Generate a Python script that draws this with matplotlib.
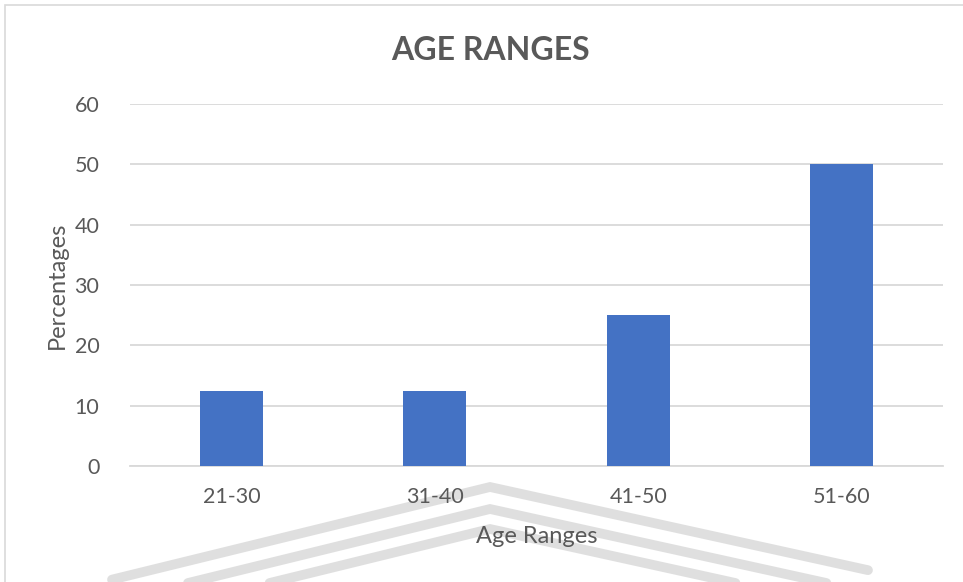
import matplotlib.pyplot as plt
from matplotlib.lines import Line2D
from matplotlib.patches import Rectangle

# data
age_ranges = ['21-30', '31-40', '41-50', '51-60']
percentages = [12.5, 12.5, 25, 50]
y_ticks = [0, 10, 20, 30, 40, 50, 60]

TEXT = '#595959'
BAR = '#4472c4'
GRID = '#d9d9d9'

plt.rcParams['font.family'] = ['Lato', 'DejaVu Sans']

fig = plt.figure(figsize=(9.63, 5.82), dpi=100)

# faint watermark chevrons behind the chart (pixel positions / figure size)
W, H = 963, 582
for dy in (0, 22, 42):
    top = 487 + dy
    xs = [112, 490, 868]
    ys = [top + (490 - 112) * 0.245, top, top + (868 - 490) * 0.22]
    fig.add_artist(Line2D([x / W for x in xs], [1 - y / H for y in ys],
                          color='#dadada', lw=7, alpha=0.85, zorder=0,
                          solid_joinstyle='miter', solid_capstyle='round'))

# chart area frame (cut off on the right and bottom)
fig.add_artist(Rectangle((5 / W, -0.1), 1.2, 1 - 5 / H + 0.1, fill=False,
                         ec='#d9d9d9', lw=1.2, transform=fig.transFigure, zorder=0))

ax = fig.add_axes([130 / W, 1 - 466 / H, (943 - 130) / W, (466 - 104) / H])
ax.set_facecolor('none')

x = range(len(age_ranges))
ax.bar(x, percentages, width=0.31, color=BAR, zorder=3)

ax.set_xlim(-0.5, len(age_ranges) - 0.5)
ax.set_ylim(0, 60)
ax.set_yticks(y_ticks)
ax.set_xticks(list(x))
ax.set_xticklabels(age_ranges)

ax.yaxis.grid(True, color=GRID, lw=1.3, zorder=0)
for side in ['top', 'right', 'left']:
    ax.spines[side].set_visible(False)
ax.spines['bottom'].set_color(GRID)
ax.spines['bottom'].set_linewidth(1.3)

ax.tick_params(axis='both', length=0, colors=TEXT, labelsize=15.5)
ax.tick_params(axis='y', pad=22)
ax.tick_params(axis='x', pad=15)

ax.set_xlabel('Age Ranges', fontsize=17, color=TEXT, labelpad=14)
ax.set_ylabel('Percentages', fontsize=17, color=TEXT, labelpad=5)

fig.text(490 / W, 1 - 50 / H, 'AGE RANGES', ha='center', va='center',
         fontsize=23, fontweight='bold', color=TEXT)

fig.savefig('out.png', dpi=100)
